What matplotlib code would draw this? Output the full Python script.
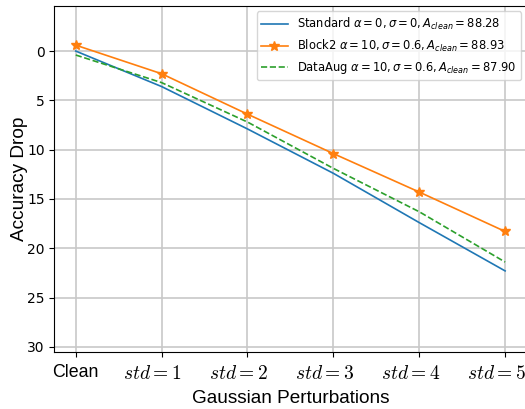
import matplotlib.pyplot as plt
import matplotlib.transforms as mtransforms
import numpy as np

# x categories and accuracy drops
x_labels = ['Clean', '$std=1$', '$std=2$', '$std=3$', '$std=4$', '$std=5$']
standard = [0.0, 3.6, 7.9, 12.4, 17.4, 22.3]
block2 = [-0.6, 2.3, 6.4, 10.4, 14.3, 18.3]
data_aug = [0.4, 3.2, 7.2, 11.9, 16.3, 21.4]

x = np.arange(len(x_labels))

fig = plt.figure(figsize=(5.25, 4.09), dpi=100)
ax = fig.add_axes([0.1034, 0.140, 0.8996, 0.846])

ax.plot(x, standard, color='tab:blue', linewidth=1.2,
        label=r'Standard $\alpha=0,\sigma=0,A_{clean}=88.28$')
ax.plot(x, block2, color='tab:orange', linewidth=1.2, marker='*', markersize=7,
        label=r'Block2 $\alpha=10,\sigma=0.6,A_{clean}=88.93$')
ax.plot(x, data_aug, color='tab:green', linewidth=1.2, linestyle='--',
        label=r'DataAug $\alpha=10,\sigma=0.6,A_{clean}=87.90$')

ax.set_xlim(-0.25, 5.25)
ax.set_ylim(30.5, -4.6)
ax.set_yticks([0, 5, 10, 15, 20, 25, 30])
ax.set_xticks(x)
ax.tick_params(axis='x', pad=5.5)
ax.tick_params(axis='y', labelsize=10)
labels = ax.set_xticklabels(x_labels, fontsize=14, math_fontfamily='cm')
labels[0].set_family('Liberation Sans')
labels[0].set_fontsize(12.8)
# the std labels sit a little left of their ticks in the original
shift = mtransforms.ScaledTranslation(-9 / 100, 0, fig.dpi_scale_trans)
for lab in labels[1:]:
    lab.set_transform(lab.get_transform() + shift)
ax.grid(True, color='#c8c8c8', linewidth=1.2)

ax.set_xlabel('Gaussian Perturbations', fontsize=13.7, family='Liberation Sans', labelpad=5)
ax.set_ylabel('Accuracy Drop', fontsize=13.7, family='Liberation Sans', labelpad=-1)
ax.legend(loc='upper right', fontsize=8.3, handlelength=2.26)

fig.savefig('out.png', dpi=100)
